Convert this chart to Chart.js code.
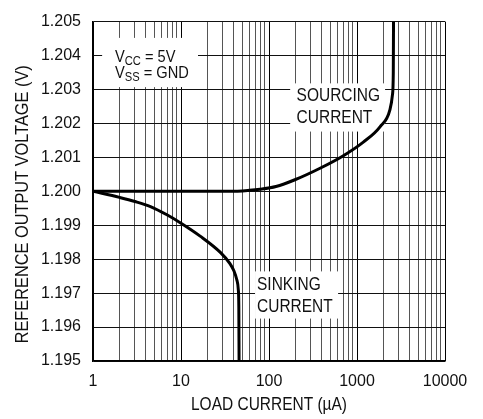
<!DOCTYPE html>
<html>
<head>
<meta charset="utf-8">
<title>Reference Output Voltage vs Load Current</title>
<script src="https://cdn.jsdelivr.net/npm/chart.js@4.4.1/dist/chart.umd.min.js"></script>
<style>
  html, body { margin: 0; padding: 0; background: #fff; }
  #wrap { width: 483px; height: 419px; position: relative; }
</style>
</head>
<body>
<div id="wrap"><canvas id="loadChart"></canvas></div>
<script>
// ============================================================================
// DATA
// ============================================================================

// Sourcing current curve: load current (uA) -> output voltage (V)
const sourcingCurrent = [1, 10, 36, 60, 79, 120, 197, 380, 700, 1180, 1825, 2370, 2530, 2585, 2600];
const sourcingVoltage = [1.2, 1.2, 1.2, 1.20003, 1.20006, 1.20014, 1.20034, 1.20068, 1.20105, 1.20145, 1.2019, 1.20241, 1.20285, 1.2035, 1.205];

// Sinking current curve
const sinkingCurrent = [1, 2, 3, 4.5, 7, 10, 16.5, 28, 36, 40, 43, 44.8, 45.4, 45.7];
const sinkingVoltage = [1.2, 1.19982, 1.1997, 1.19955, 1.1993, 1.19906, 1.19868, 1.1982, 1.19787, 1.19765, 1.1974, 1.1971, 1.1966, 1.195];

// Axis ticks
const xDecades = [1, 10, 100, 1000, 10000];
const yTickValues = [1.195, 1.196, 1.197, 1.198, 1.199, 1.2, 1.201, 1.202, 1.203, 1.204, 1.205];

const xTitle = 'LOAD CURRENT (\u00b5A)';
const yTitle = 'REFERENCE OUTPUT VOLTAGE (V)';

const tickFont = "'Liberation Sans', Arial, sans-serif";
const textColor = '#111';
const narrow = 0.86; // horizontal squeeze to mimic the narrow datasheet font

// Build {x, y} points from two arrays
function toPoints(xs, ys) {
  return xs.map((x, i) => ({ x: x, y: ys[i] }));
}

// Gridline values: 1..9 in each decade, plus the last decade
function logGridValues() {
  const vals = [];
  for (let d = 0; d < xDecades.length - 1; d++) {
    for (let m = 1; m < 10; m++) {
      vals.push({ value: xDecades[d] * m, major: m === 1 });
    }
  }
  vals.push({ value: xDecades[xDecades.length - 1], major: true });
  return vals;
}

// Draw a run of text parts (with optional subscripts), squeezed horizontally
function drawNarrow(ctx, parts, x, y, size, align, rotation) {
  ctx.save();
  ctx.translate(x, y);
  if (rotation) ctx.rotate(rotation);
  ctx.scale(narrow, 1);
  ctx.fillStyle = textColor;
  ctx.textBaseline = 'middle';
  ctx.textAlign = 'left';

  // total width first, so it can be centred
  let total = 0;
  parts.forEach(p => {
    ctx.font = (p.sub ? Math.round(size * 0.75) : size) + 'px ' + tickFont;
    total += ctx.measureText(p.t).width;
  });
  let px = align === 'center' ? -total / 2 : 0;
  parts.forEach(p => {
    ctx.font = (p.sub ? Math.round(size * 0.75) : size) + 'px ' + tickFont;
    ctx.fillText(p.t, px, p.sub ? 4 : 0);
    px += ctx.measureText(p.t).width;
  });
  ctx.restore();
}

// ============================================================================
// IN-PLOT LABELS (white boxes that hide the grid)
// ============================================================================
const plotNotes = [
  {
    box: { x0: 1.27, x1: 15.6, y0: 1.20452, y1: 1.20307 },
    textX: 1.78,
    size: 17,
    lines: [
      { y: 1.20395, parts: [{ t: 'V' }, { t: 'CC', sub: true }, { t: ' = 5V' }] },
      { y: 1.20347, parts: [{ t: 'V' }, { t: 'SS', sub: true }, { t: ' = GND' }] }
    ]
  },
  {
    box: { x0: 174, x1: 2085, y0: 1.20318, y1: 1.20176 },
    textX: 206,
    size: 18,
    lines: [
      { y: 1.2028, parts: [{ t: 'SOURCING' }] },
      { y: 1.20217, parts: [{ t: 'CURRENT' }] }
    ]
  },
  {
    box: { x0: 69.4, x1: 610, y0: 1.19764, y1: 1.19625 },
    textX: 73.1,
    size: 18,
    lines: [
      { y: 1.19723, parts: [{ t: 'SINKING' }] },
      { y: 1.19659, parts: [{ t: 'CURRENT' }] }
    ]
  }
];

const notesPlugin = {
  id: 'plotNotes',
  beforeDatasetsDraw(chart) {
    const ctx = chart.ctx;
    const xs = chart.scales.x;
    const ys = chart.scales.y;
    plotNotes.forEach(note => {
      const bx0 = xs.getPixelForValue(note.box.x0);
      const bx1 = xs.getPixelForValue(note.box.x1);
      const by0 = ys.getPixelForValue(note.box.y0);
      const by1 = ys.getPixelForValue(note.box.y1);
      ctx.save();
      ctx.fillStyle = '#fff';
      ctx.fillRect(bx0, by0, bx1 - bx0, by1 - by0);
      ctx.restore();

      note.lines.forEach(line => {
        drawNarrow(ctx, line.parts, xs.getPixelForValue(note.textX), ys.getPixelForValue(line.y), note.size, 'left', 0);
      });
    });
  },
  afterDraw(chart) {
    const ctx = chart.ctx;
    const area = chart.chartArea;
    // axis titles
    drawNarrow(ctx, [{ t: xTitle }], (area.left + area.right) / 2, area.bottom + 44, 18, 'center', 0);
    drawNarrow(ctx, [{ t: yTitle }], 23, (area.top + area.bottom) / 2 + 13, 19, 'center', -Math.PI / 2);
  }
};

// ============================================================================
// CHART
// ============================================================================
function initLoadChart() {
  const ctx = document.getElementById('loadChart');

  new Chart(ctx, {
    type: 'line',
    data: {
      datasets: [
        {
          label: 'Sourcing',
          data: toPoints(sourcingCurrent, sourcingVoltage),
          borderColor: '#000',
          borderWidth: 3,
          pointRadius: 0,
          cubicInterpolationMode: 'monotone',
          fill: false
        },
        {
          label: 'Sinking',
          data: toPoints(sinkingCurrent, sinkingVoltage),
          borderColor: '#000',
          borderWidth: 3,
          pointRadius: 0,
          cubicInterpolationMode: 'monotone',
          fill: false
        }
      ]
    },
    options: {
      responsive: true,
      maintainAspectRatio: false,
      animation: false,
      layout: { padding: { top: 9, right: 38, left: 0, bottom: 0 } },
      plugins: {
        legend: { display: false },
        tooltip: { enabled: false }
      },
      scales: {
        x: {
          type: 'logarithmic',
          min: 1,
          max: 10000,
          afterBuildTicks: scale => { scale.ticks = logGridValues(); },
          afterFit: scale => { scale.height = 58; },
          grid: {
            drawTicks: false,
            color: c => (c.tick && c.tick.major ? '#000' : '#555'),
            lineWidth: 1
          },
          border: { color: '#000', width: 1.5 },
          ticks: {
            autoSkip: false,
            maxRotation: 0,
            padding: 11,
            color: textColor,
            font: { family: tickFont, size: 16 },
            callback: (v) => (xDecades.includes(v) ? String(v) : '')
          }
        },
        y: {
          min: 1.195,
          max: 1.205,
          afterBuildTicks: scale => { scale.ticks = yTickValues.map(v => ({ value: v })); },
          afterFit: scale => { scale.width = 93; },
          grid: { drawTicks: false, color: '#111', lineWidth: 1 },
          border: { color: '#000', width: 1.5 },
          ticks: {
            padding: 12,
            color: textColor,
            font: { family: tickFont, size: 16 },
            callback: v => v.toFixed(3)
          }
        }
      }
    },
    plugins: [notesPlugin]
  });
}

initLoadChart();
</script>
</body>
</html>
